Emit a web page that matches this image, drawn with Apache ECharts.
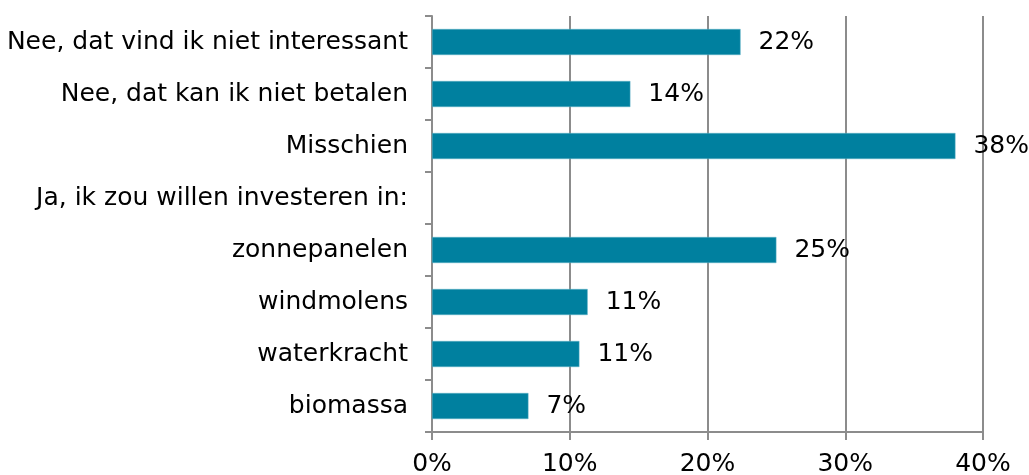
<!DOCTYPE html>
<html>
<head>
<meta charset="utf-8">
<script src="https://cdn.jsdelivr.net/npm/echarts@6/dist/echarts.min.js"></script>
<style>
  html, body { margin: 0; padding: 0; background: #fff; }
  #chart-container { width: 1029px; height: 475px; }
</style>
</head>
<body>
<div id="chart-container"></div>
<script>
// categories top to bottom
const categories = [
  'Nee, dat vind ik niet interessant',
  'Nee, dat kan ik niet betalen',
  'Misschien',
  'Ja, ik zou willen investeren in:',
  'zonnepanelen',
  'windmolens',
  'waterkracht',
  'biomassa'
]
const values = [22.4, 14.4, 38.0, null, 25.0, 11.3, 10.7, 7.0]
const xTicks = [0, 10, 20, 30, 40]

const font = 'DejaVu Sans, Verdana, sans-serif'

const dom = document.getElementById('chart-container')
const myChart = echarts.init(dom, null, { renderer: 'canvas' })

const options = {
  animation: false,
  grid: { left: 432, right: 46, top: 16, bottom: 43, outerBoundsMode: 'none', containLabel: false },
  xAxis: {
    type: 'value',
    min: xTicks[0],
    max: xTicks[xTicks.length - 1],
    interval: 10,
    axisLine: { show: true, lineStyle: { color: '#8c8c8c', width: 2 } },
    axisTick: { show: true, length: 8, lineStyle: { color: '#8c8c8c', width: 2 } },
    splitLine: { show: true, lineStyle: { color: '#8c8c8c', width: 2 } },
    axisLabel: {
      formatter: v => v + '%',
      color: '#000',
      fontFamily: font,
      fontSize: 25,
      margin: 20
    }
  },
  yAxis: {
    type: 'category',
    inverse: true,
    data: categories,
    axisLine: { show: true, lineStyle: { color: '#8c8c8c', width: 2 } },
    axisTick: { show: true, length: 7, lineStyle: { color: '#8c8c8c', width: 2 } },
    axisLabel: {
      color: '#000',
      fontFamily: font,
      fontSize: 25,
      margin: 24,
      padding: [4, 0, 0, 0]
    }
  },
  series: [{
    type: 'bar',
    data: values,
    barWidth: 26,
    itemStyle: { color: '#00809f', borderColor: '#5fb0c6', borderWidth: 0.5 },
    label: {
      show: true,
      position: 'right',
      distance: 18,
      color: '#000',
      fontFamily: font,
      fontSize: 25,
      padding: [5, 0, 0, 0],
      formatter: p => p.value == null ? '' : Math.round(p.value) + '%'
    }
  }]
}

myChart.setOption(options)
window.addEventListener('resize', myChart.resize)
</script>
</body>
</html>
